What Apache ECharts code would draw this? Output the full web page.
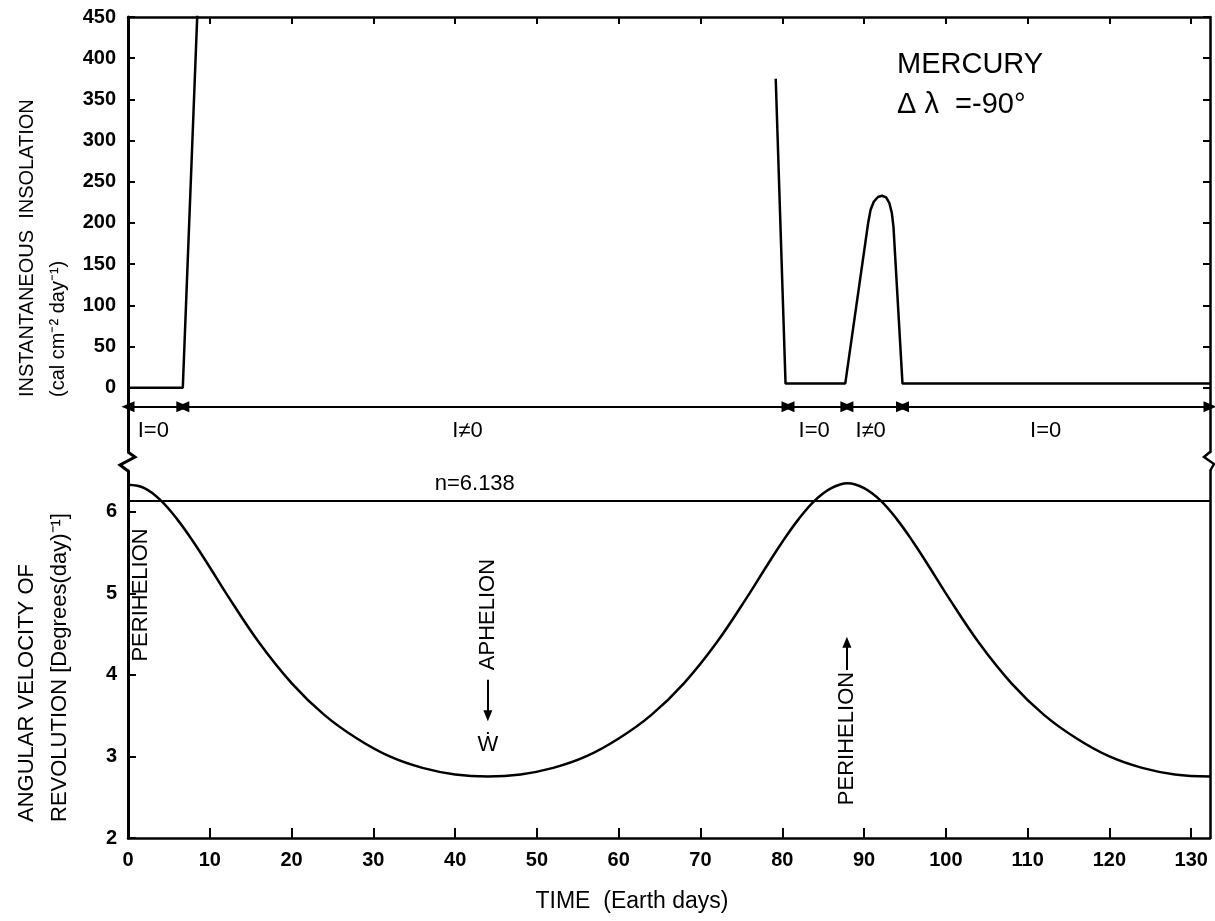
<!DOCTYPE html>
<html lang="en">
<head>
    <meta charset="UTF-8">
    <title>Mercury insolation</title>
    <script src="https://cdn.jsdelivr.net/npm/echarts@6/dist/echarts.min.js"></script>
    <style>
        * { padding: 0; margin: 0; }
        html, body { width: 1215px; height: 921px; background: #fff; }
        #chart { width: 1215px; height: 921px; }
    </style>
</head>
<body>
<div id="chart"></div>
<script>
    // top panel: insolation (two visible pieces, the middle runs off the top)
    var insolPart1 = [[0, 0], [6.7, 0], [8.5, 460]];
    var insolPart2 = [[79.2, 375], [80.4, 5], [87.7, 5], [90.5, 200], [90.8, 216], [91.2, 226], [91.7, 231.5],
        [92.2, 233], [92.7, 231], [93.1, 224], [93.4, 212], [93.6, 195], [94.7, 5], [132.3, 5]];

    // I=0 / I≠0 intervals
    var segBounds = [0, 6.7, 80.7, 87.9, 94.7, 132.3];
    var segLabels = ['I=0', 'I≠0', 'I=0', 'I≠0', 'I=0'];
    var segLabelX = [3.1, 41.5, 83.9, 90.8, 112.2];
    var segLineY = -23;
    var segTextY = -53;

    // bottom panel: angular velocity of revolution
    var days = [0, 2, 4, 6, 8, 10, 12, 16, 20, 24, 28, 32, 36, 40, 44, 48, 52, 56, 60, 64, 68, 72, 76, 78, 80,
        82, 84, 86, 88, 90, 92, 94, 96, 98, 100, 104, 108, 112, 116, 120, 124, 128, 132.3];
    var velocity = [6.33, 6.29, 6.14, 5.91, 5.63, 5.32, 5.00, 4.40, 3.90, 3.51, 3.22, 3.00, 2.86, 2.78, 2.755,
        2.78, 2.86, 3.00, 3.22, 3.51, 3.90, 4.40, 5.00, 5.32, 5.63, 5.91, 6.14, 6.29, 6.35, 6.29, 6.14, 5.91,
        5.63, 5.32, 5.00, 4.40, 3.90, 3.51, 3.22, 3.00, 2.86, 2.78, 2.755];
    var spinRate = 6.138;

    var xTicks = [0, 10, 20, 30, 40, 50, 60, 70, 80, 90, 100, 110, 120, 130];
    var insolTicks = [0, 50, 100, 150, 200, 250, 300, 350, 400, 450];
    var velTicks = [2, 3, 4, 5, 6];

    var FONT = '"Liberation Sans", Arial, sans-serif';
    var black = '#000';

    var chart = echarts.init(document.getElementById('chart'));

    function tickAxis(extra) {
        var base = {
            axisLine: { show: true, onZero: false, lineStyle: { color: black, width: 2.5 } },
            splitLine: { show: false },
            axisLabel: { show: false },
            axisTick: { show: false }
        };
        return Object.assign(base, extra);
    }
    var tickFont = { color: black, fontFamily: FONT, fontSize: 20, fontWeight: 'bold' };

    var segLines = [];
    for (var i = 0; i < segBounds.length - 1; i++) {
        segLines.push([{ coord: [segBounds[i], segLineY] }, { coord: [segBounds[i + 1], segLineY] }]);
    }
    var segText = segLabels.map(function (t, i) { return [segLabelX[i], segTextY, t]; });

    var lineSeries = function (data, xi, yi) {
        return {
            type: 'line', xAxisIndex: xi, yAxisIndex: yi, data: data, symbol: 'none', silent: true,
            lineStyle: { color: black, width: 2.5 }
        };
    };

    function rotText(x, y, text, size) {
        return { type: 'text', x: x, y: y, rotation: Math.PI / 2, silent: true,
            style: { text: text, fill: black, font: size + 'px ' + FONT, textAlign: 'left', textVerticalAlign: 'middle' } };
    }

    var textLabel = {
        show: true, position: 'inside', color: black, opacity: 1, textBorderWidth: 0,
        fontFamily: FONT, fontSize: 22,
        formatter: function (p) { return p.value[2]; }
    };

    var option = {
        backgroundColor: '#fff',
        animation: false,
        grid: [
            { left: 128, right: 5, top: 17, height: 435 },
            { left: 128, right: 5, top: 471, height: 367 }
        ],
        xAxis: [
            tickAxis({
                gridIndex: 0, type: 'value', position: 'top', min: 0, max: 132.3,
                axisTick: { show: true, inside: true, length: 7, customValues: xTicks, lineStyle: { color: black, width: 2 } }
            }),
            tickAxis({
                gridIndex: 1, type: 'value', position: 'bottom', min: 0, max: 132.3,
                axisTick: { show: true, inside: true, length: 10, customValues: xTicks, lineStyle: { color: black, width: 2 } },
                axisLabel: Object.assign({ show: true, customValues: xTicks, margin: 12 }, tickFont)
            })
        ],
        yAxis: [
            tickAxis({
                gridIndex: 0, type: 'value', position: 'left', min: -78, max: 450,
                axisLine: { show: true, onZero: false, lineStyle: { color: black, width: 3 } },
                axisTick: { show: true, inside: true, length: 7, customValues: insolTicks, lineStyle: { color: black, width: 2 } },
                axisLabel: Object.assign({ show: true, customValues: insolTicks, margin: 12 }, tickFont)
            }),
            tickAxis({
                gridIndex: 0, type: 'value', position: 'right', min: -78, max: 450,
                axisTick: { show: true, inside: true, length: 7, customValues: insolTicks, lineStyle: { color: black, width: 2 } }
            }),
            tickAxis({
                gridIndex: 1, type: 'value', position: 'left', min: 2, max: 6.5,
                axisLine: { show: true, onZero: false, lineStyle: { color: black, width: 3 } },
                axisTick: { show: true, inside: true, length: 8, customValues: velTicks, lineStyle: { color: black, width: 2 } },
                axisLabel: Object.assign({ show: true, customValues: velTicks, margin: 11 }, tickFont)
            }),
            tickAxis({
                gridIndex: 1, type: 'value', position: 'right', min: 2, max: 6.5
            })
        ],
        series: [
            lineSeries(insolPart1, 0, 0),
            lineSeries(insolPart2, 0, 0),
            {
                type: 'line', xAxisIndex: 0, yAxisIndex: 0, symbol: 'none', silent: true,
                data: [[segBounds[0], segLineY], [segBounds[segBounds.length - 1], segLineY]],
                lineStyle: { opacity: 0 },
                markLine: {
                    silent: true, symbol: ['triangle', 'triangle'], symbolSize: [11, 13],
                    label: { show: false },
                    itemStyle: { color: black },
                    lineStyle: { color: black, width: 2, type: 'solid' },
                    data: segLines
                }
            },
            {
                type: 'scatter', xAxisIndex: 0, yAxisIndex: 0, symbolSize: 0, silent: true,
                itemStyle: { opacity: 1 },
                data: segText,
                label: textLabel
            },
            Object.assign(lineSeries(days.map(function (d, i) { return [d, velocity[i]]; }), 1, 2), {
                smooth: 0.4,
                markLine: {
                    silent: true, symbol: 'none', label: { show: false },
                    lineStyle: { color: black, width: 2, type: 'solid' },
                    data: [{ yAxis: spinRate }]
                }
            }),
            {
                type: 'scatter', xAxisIndex: 1, yAxisIndex: 2, symbolSize: 0, silent: true,
                itemStyle: { opacity: 1 },
                data: [
                    [1.6, 4.98, 'PERIHELION'],
                    [44.0, 4.74, 'APHELION'],
                    [87.9, 3.22, 'PERIHELION'],
                    { value: [44.0, 3.14, 'Ẇ'], label: { rotate: 0 } },
                    { value: [42.4, spinRate, 'n=' + spinRate], label: { rotate: 0, position: 'top', distance: 6 } }
                ],
                label: Object.assign({ rotate: 90 }, textLabel),
                markLine: {
                    silent: true, symbol: ['none', 'triangle'], symbolSize: [9, 11],
                    label: { show: false },
                    itemStyle: { color: black },
                    lineStyle: { color: black, width: 2, type: 'solid' },
                    data: [
                        [{ coord: [44.0, 3.94] }, { coord: [44.0, 3.50] }],
                        [{ coord: [87.9, 4.06] }, { coord: [87.9, 4.40] }]
                    ]
                }
            }
        ],
        graphic: [
            rotText(27, 397, 'INSTANTANEOUS  INSOLATION', 20),
            rotText(58, 397, '(cal cm⁻² day⁻¹)', 20),
            rotText(27, 822, 'ANGULAR VELOCITY OF', 22),
            rotText(60, 822, 'REVOLUTION [Degrees(day)⁻¹]', 22),
            { type: 'text', x: 632, y: 902, silent: true,
              style: { text: 'TIME  (Earth days)', fill: black, font: '23px ' + FONT, textAlign: 'center', textVerticalAlign: 'middle' } },
            { type: 'text', x: 897, y: 50, silent: true,
              style: { text: 'MERCURY', fill: black, font: '29px ' + FONT, textAlign: 'left', textVerticalAlign: 'top' } },
            { type: 'text', x: 897, y: 90, silent: true,
              style: { text: 'Δ λ  =-90°', fill: black, font: '29px ' + FONT, textAlign: 'left', textVerticalAlign: 'top' } },
            { type: 'polyline', silent: true, shape: { points: [[128, 452], [135, 457], [120, 465], [128, 471]] },
              style: { stroke: black, lineWidth: 3, fill: null } },
            { type: 'polyline', silent: true, shape: { points: [[1210, 452], [1204, 457], [1214, 464], [1210, 471]] },
              style: { stroke: black, lineWidth: 2.5, fill: null } }
        ]
    };
    chart.setOption(option);
</script>
</body>
</html>
